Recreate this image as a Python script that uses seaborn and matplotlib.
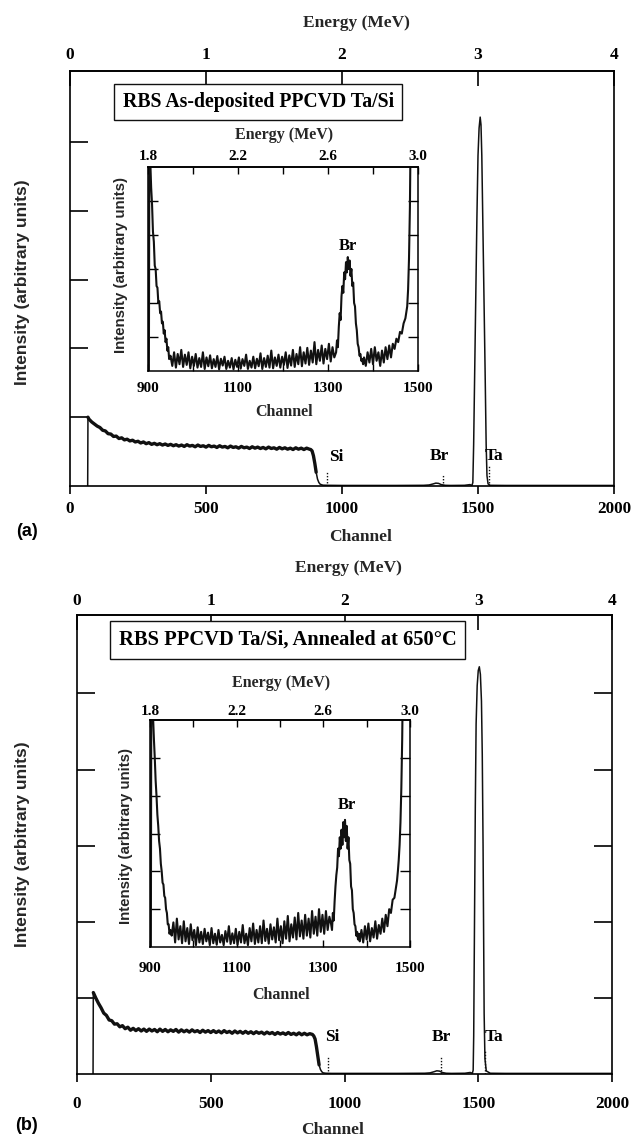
import matplotlib
matplotlib.use("Agg")
import matplotlib.pyplot as plt
from matplotlib.ticker import FormatStrFormatter
import seaborn as sns

# ---------------------------------------------------------------- data
# Main spectra: channel number vs. intensity (arbitrary units)
substrate_ch = list(range(70, 890, 10))

main_a_ch = [65, 66] + substrate_ch + [
    885, 890, 895, 900, 905, 910, 915, 920, 930, 950, 1000, 1100, 1200,
    1300, 1320, 1335, 1345, 1355, 1365, 1380, 1400, 1450, 1470,
    1478, 1481, 1484, 1488, 1492, 1496, 1500, 1504, 1508, 1511, 1514,
    1518, 1522, 1526, 1530, 1533, 1537, 1545, 1600, 1800, 2000]
main_a_int = [0.0, 1.0,
    0.97, 0.93, 0.90, 0.87, 0.85, 0.81, 0.80, 0.76, 0.755, 0.72,
    0.725, 0.69, 0.70, 0.67, 0.68, 0.655, 0.665, 0.64, 0.65, 0.625,
    0.64, 0.615, 0.63, 0.605, 0.62, 0.60, 0.615, 0.595, 0.61, 0.59,
    0.605, 0.585, 0.60, 0.58, 0.595, 0.575, 0.60, 0.58, 0.59, 0.57,
    0.595, 0.575, 0.585, 0.565, 0.59, 0.57, 0.58, 0.56, 0.585, 0.565,
    0.575, 0.555, 0.58, 0.56, 0.57, 0.55, 0.575, 0.555, 0.565, 0.545,
    0.57, 0.55, 0.565, 0.545, 0.56, 0.54, 0.565, 0.545, 0.555, 0.535,
    0.56, 0.54, 0.555, 0.535, 0.55, 0.53, 0.555, 0.535, 0.55, 0.53,
    0.55, 0.535,
    0.53, 0.51, 0.44, 0.33, 0.20, 0.10, 0.05, 0.025, 0.012, 0.01, 0.008,
    0.008, 0.008, 0.01, 0.015, 0.03, 0.042, 0.038, 0.02, 0.01, 0.008,
    0.01, 0.02,
    0.01, 0.05, 0.6, 1.7, 2.8, 3.9, 4.8, 5.2, 5.36, 5.25, 4.8,
    3.8, 2.8, 1.7, 0.6, 0.15, 0.03, 0.01, 0.008, 0.008, 0.008]

main_b_ch = [60, 61] + substrate_ch + [
    885, 890, 895, 900, 905, 910, 915, 920, 930, 950, 1000, 1100, 1200,
    1300, 1320, 1335, 1345, 1355, 1365, 1380, 1400, 1450, 1470,
    1478, 1481, 1483, 1486, 1489, 1492, 1496, 1500, 1504, 1508, 1512,
    1515, 1518, 1520, 1522, 1525, 1530, 1545, 1600, 1800, 2000]
main_b_int = [0.0, 1.07,
    1.00, 0.93, 0.87, 0.80, 0.77, 0.71, 0.70, 0.655, 0.66, 0.62,
    0.635, 0.595, 0.615, 0.575, 0.60, 0.57, 0.595, 0.565, 0.59, 0.56,
    0.59, 0.565, 0.585, 0.555, 0.59, 0.56, 0.585, 0.555, 0.58, 0.56,
    0.585, 0.55, 0.58, 0.555, 0.575, 0.55, 0.58, 0.555, 0.57, 0.545,
    0.575, 0.55, 0.57, 0.545, 0.57, 0.545, 0.565, 0.54, 0.57, 0.545,
    0.56, 0.535, 0.565, 0.54, 0.56, 0.535, 0.56, 0.535, 0.555, 0.53,
    0.555, 0.535, 0.55, 0.525, 0.55, 0.53, 0.545, 0.52, 0.545, 0.525,
    0.54, 0.52, 0.545, 0.52, 0.535, 0.515, 0.54, 0.515, 0.535, 0.515,
    0.53, 0.52,
    0.50, 0.46, 0.36, 0.24, 0.12, 0.06, 0.03, 0.015, 0.01, 0.008, 0.008,
    0.008, 0.008, 0.01, 0.015, 0.03, 0.042, 0.038, 0.02, 0.01, 0.008,
    0.01, 0.02,
    0.01, 0.05, 0.5, 2.0, 3.5, 4.6, 5.1, 5.3, 5.35, 5.25, 4.9,
    4.2, 3.0, 1.8, 0.8, 0.2, 0.04, 0.01, 0.008, 0.008, 0.008]

# Magnified region 900-1500 (inset units)
inset_noise_ch = list(range(950, 1318, 4))

inset_a_ch = ([902, 903, 905, 907, 909, 911, 913, 915, 917, 919, 921, 923,
               925, 927, 929, 931, 933, 935, 937, 939, 941, 943, 945, 947]
              + inset_noise_ch
              + list(range(1318, 1382, 2))
              + list(range(1384, 1448, 4))
              + [1448, 1452, 1456, 1460, 1464, 1468, 1472, 1476, 1478,
                 1480, 1482, 1484])
inset_a_int = ([0.0, 7.0, 6.2, 5.4, 4.9, 4.1, 3.8, 3.1, 3.0, 2.5, 2.45, 2.0,
                2.05, 1.7, 1.75, 1.4, 1.45, 1.1, 1.2, 0.85, 0.95, 0.6, 0.7,
                0.35]
               + [0.45, 0.15, 0.55, 0.10, 0.50, 0.20, 0.62, 0.12, 0.48, 0.18,
                  0.55, 0.08, 0.42, 0.15, 0.50, 0.10, 0.38, 0.12, 0.55, 0.06,
                  0.40, 0.14, 0.46, 0.08, 0.35, 0.12, 0.44, 0.05, 0.36, 0.16,
                  0.42, 0.06, 0.30, 0.10, 0.38, 0.05, 0.33, 0.12, 0.40, 0.07,
                  0.35, 0.15, 0.48, 0.06, 0.30, 0.10, 0.42, 0.08, 0.36, 0.14,
                  0.52, 0.06, 0.38, 0.12, 0.45, 0.10, 0.60, 0.08, 0.40, 0.15,
                  0.48, 0.10, 0.42, 0.18, 0.55, 0.09, 0.46, 0.16, 0.62, 0.12,
                  0.50, 0.20, 0.70, 0.14, 0.55, 0.22, 0.68, 0.18, 0.60, 0.25,
                  0.85, 0.20, 0.62, 0.30, 0.75, 0.22, 0.65, 0.35, 0.80, 0.28,
                  0.70, 0.40]
               + [0.55, 0.9, 0.7, 1.3, 1.7, 1.5, 2.2, 2.5, 2.3, 2.9, 2.7, 3.2,
                  2.9, 3.35, 3.0, 3.25, 2.8, 3.0, 2.5, 2.6, 2.0, 1.9, 1.4,
                  1.2, 0.8, 0.7, 0.45, 0.5, 0.3, 0.35, 0.2, 0.4]
               + [0.15, 0.55, 0.25, 0.65, 0.20, 0.70, 0.30, 0.55, 0.15, 0.60,
                  0.25, 0.70, 0.35, 0.75, 0.40, 0.80]
               + [0.65, 0.95, 0.85, 1.15, 1.10, 1.40, 1.55, 1.90, 2.4, 3.3,
                  4.8, 7.5])

inset_b_ch = ([902, 903, 905, 907, 909, 911, 913, 915, 917, 919, 921, 923,
               925, 927, 929, 931, 933, 935, 937, 939, 941, 943, 945, 947]
              + inset_noise_ch
              + list(range(1318, 1386, 2))
              + list(range(1388, 1452, 4))
              + [1452, 1456, 1460, 1464, 1468, 1470, 1472, 1474, 1476, 1478,
                 1480, 1482, 1484])
inset_b_int = ([0.0, 7.0, 6.6, 6.1, 5.5, 5.0, 4.4, 4.0, 3.5, 3.2, 2.8, 2.6,
                2.2, 2.0, 1.7, 1.65, 1.35, 1.3, 1.0, 0.9, 0.6, 0.6, 0.35,
                0.45]
               + [0.30, 0.65, 0.12, 0.75, 0.20, 0.55, 0.10, 0.68, 0.15, 0.50,
                  0.08, 0.60, 0.18, 0.45, 0.05, 0.52, 0.12, 0.40, 0.08, 0.48,
                  0.15, 0.38, 0.05, 0.50, 0.10, 0.35, 0.06, 0.45, 0.12, 0.32,
                  0.05, 0.42, 0.14, 0.55, 0.08, 0.36, 0.10, 0.48, 0.06, 0.40,
                  0.12, 0.58, 0.10, 0.35, 0.05, 0.50, 0.15, 0.62, 0.08, 0.45,
                  0.12, 0.55, 0.10, 0.70, 0.16, 0.48, 0.09, 0.60, 0.20, 0.52,
                  0.12, 0.75, 0.18, 0.55, 0.10, 0.68, 0.22, 0.82, 0.15, 0.60,
                  0.25, 0.78, 0.20, 0.90, 0.28, 0.70, 0.22, 0.85, 0.30, 0.75,
                  0.25, 0.95, 0.35, 0.80, 0.30, 1.00, 0.40, 0.85, 0.35, 0.95,
                  0.45, 0.80]
               + [0.6, 0.45, 0.9, 0.7, 1.2, 1.6, 1.9, 2.1, 2.6, 2.4, 2.9, 2.6,
                  3.1, 2.7, 3.3, 2.9, 3.36, 2.8, 3.2, 2.6, 2.9, 2.3, 2.2, 1.6,
                  1.5, 1.0, 0.9, 0.6, 0.55, 0.3, 0.4, 0.2, 0.35, 0.15]
               + [0.45, 0.12, 0.55, 0.20, 0.62, 0.15, 0.50, 0.25, 0.68, 0.22,
                  0.58, 0.35, 0.75, 0.40, 0.85, 0.55]
               + [1.0, 0.9, 1.25, 1.3, 1.6, 1.75, 2.0, 2.3, 2.7, 3.3, 4.2,
                  5.5, 7.5])

# Surface-edge markers and their labels
edge_names = ["Si", "Br", "Ta"]
edge_a_ch = [945, 1370, 1540]
edge_a_h = [0.22, 0.16, 0.29]
edge_b_ch = [940, 1362, 1527]
edge_b_h = [0.24, 0.22, 0.30]
label_a_ch = [978, 1357, 1558]
label_a_y = [0.42, 0.44, 0.44]
label_b_ch = [954, 1362, 1559]
label_b_y = [0.48, 0.48, 0.48]

inset_br_a = (1344, 3.68)
inset_br_b = (1354, 3.76)

main_xticks = [0, 500, 1000, 1500, 2000]
main_eticks = [0, 1, 2, 3, 4]
inset_xticks = [900, 1100, 1300, 1500]
inset_xminor = [1000, 1200, 1400]
inset_eticks = [1.8, 2.2, 2.6, 3.0]
inset_eminor = [2.0, 2.4, 2.8]
yticks = [1, 2, 3, 4, 5]
substrate_end = 905      # last channel of the Si substrate plateau

title_a = "RBS As-deposited PPCVD Ta/Si"
title_b = "RBS PPCVD Ta/Si, Annealed at 650\u00b0C"

# ---------------------------------------------------------------- style
W, H, DPI = 632, 1137, 100
sns.set_theme(style="ticks")
plt.rcParams["font.family"] = ["Liberation Serif", "DejaVu Serif"]
plt.rcParams["font.weight"] = "bold"
plt.rcParams["axes.labelweight"] = "bold"
plt.rcParams["axes.linewidth"] = 1.2
plt.rcParams["axes.edgecolor"] = "black"
plt.rcParams["xtick.color"] = "black"
plt.rcParams["ytick.color"] = "black"
plt.rcParams["text.color"] = "black"

SANS = ["Liberation Sans", "DejaVu Sans"]
INK = "#111111"


def ch_to_mev(c):
    return c / 500.0


def mev_to_ch(e):
    return e * 500.0


def box(l, t, r, b):
    """Axes rectangle from pixel edges (top-left origin)."""
    return [l / W, 1 - b / H, (r - l) / W, (b - t) / H]


def centre_label(label, rot=0):
    label.set_ha("center")
    label.set_va("center")
    label.set_rotation(rot)
    label.set_rotation_mode("anchor")


def draw_panel(fig, main_px, inset_px, ch, inten, ich, iint, edge_ch, edge_h,
               lab_ch, lab_y, br_pos, title, title_xy, title_size,
               right_ticks, pads, lab_pos):
    ax = fig.add_axes(box(*main_px))
    sns.lineplot(x=ch, y=inten, ax=ax, color=INK, lw=1.1,
                 estimator=None, sort=False)
    # the noisy substrate plateau reads as a broad band
    n_sub = sum(1 for c in ch if c <= substrate_end)
    sns.lineplot(x=ch[1:n_sub], y=inten[1:n_sub], ax=ax, color=INK, lw=2.4,
                 estimator=None, sort=False)
    ax.set_xlim(0, 2000)
    ax.set_ylim(0, 6.03)
    ax.set_xticks(main_xticks)
    ax.set_yticks(yticks)
    ax.set_yticklabels([])
    ax.tick_params(axis="x", direction="out", length=6, width=1.2,
                   pad=pads["bottom"], labelsize=12.3, top=False)
    ax.tick_params(axis="y", direction="in", length=13, width=1.2,
                   left=True, right=right_ticks, labelleft=False)
    for side in ax.spines.values():
        side.set_visible(True)
        side.set_linewidth(1.2)

    ax.vlines(edge_ch, 0, edge_h, colors=INK, lw=1.0,
              linestyles=(0, (1, 1.2)))
    for name, cx, cy in zip(edge_names, lab_ch, lab_y):
        ax.text(cx, cy, name, ha="center", va="center", fontsize=12.5,
                fontweight="bold")

    ax.set_xlabel("Channel", fontsize=12.5)
    centre_label(ax.xaxis.label)
    ax.xaxis.set_label_coords(*lab_pos["channel"])
    ax.set_ylabel("Intensity (arbitrary units)", fontsize=12.5,
                  family=SANS, fontweight="bold")
    centre_label(ax.yaxis.label, 90)
    ax.yaxis.set_label_coords(*lab_pos["intensity"])

    top = ax.secondary_xaxis("top", functions=(ch_to_mev, mev_to_ch))
    top.set_xticks(main_eticks)
    top.xaxis.set_major_formatter(FormatStrFormatter("%d"))
    top.tick_params(direction="in", length=11, width=1.2,
                    pad=pads["top"], labelsize=12.5)
    top.set_xlabel("Energy (MeV)", fontsize=12.5)
    centre_label(top.xaxis.label)
    top.xaxis.set_label_coords(*lab_pos["energy"], transform=ax.transAxes)

    ax.text(title_xy[0], title_xy[1], title, transform=ax.transAxes,
            ha="left", va="center", fontsize=title_size, fontweight="bold",
            bbox=dict(boxstyle="square,pad=0.42", fc="white", ec=INK,
                      lw=1.0))

    # magnified inset
    ia = fig.add_axes(box(*inset_px))
    sns.lineplot(x=ich, y=iint, ax=ia, color=INK, lw=1.5,
                 estimator=None, sort=False)
    ia.set_xlim(900, 1500)
    ia.set_ylim(0, 6)
    ia.set_xticks(inset_xticks)
    ia.set_xticks(inset_xminor, minor=True)
    ia.set_yticks(yticks)
    ia.set_yticklabels([])
    ia.tick_params(axis="x", which="both", direction="in", length=5,
                   width=1.0, pad=pads["ibottom"], labelsize=11, top=False)
    ia.tick_params(axis="y", direction="in", length=7, width=1.0,
                   left=True, right=True, labelleft=False)
    for side in ia.spines.values():
        side.set_visible(True)
        side.set_linewidth(1.1)
    ia.text(br_pos[0], br_pos[1], "Br", ha="center", va="center",
            fontsize=12, fontweight="bold")
    ia.set_xlabel("Channel", fontsize=11.5)
    centre_label(ia.xaxis.label)
    ia.xaxis.set_label_coords(*lab_pos["ichannel"])
    ia.set_ylabel("Intensity (arbitrary units)", fontsize=10.8,
                  family=SANS, fontweight="bold")
    centre_label(ia.yaxis.label, 90)
    ia.yaxis.set_label_coords(*lab_pos["iintensity"])

    itop = ia.secondary_xaxis("top", functions=(ch_to_mev, mev_to_ch))
    itop.set_xticks(inset_eticks)
    itop.set_xticks(inset_eminor, minor=True)
    itop.xaxis.set_major_formatter(FormatStrFormatter("%.1f"))
    itop.tick_params(which="both", direction="in", length=5, width=1.0,
                     pad=pads["itop"], labelsize=11)
    itop.set_xlabel("Energy (MeV)", fontsize=11.5)
    centre_label(itop.xaxis.label)
    itop.xaxis.set_label_coords(*lab_pos["ienergy"], transform=ia.transAxes)
    return ax


fig = plt.figure(figsize=(W / DPI, H / DPI), dpi=DPI)
fig.patch.set_facecolor("white")

draw_panel(fig, (70, 71, 614, 486), (148, 167, 418, 371),
           main_a_ch, main_a_int, inset_a_ch, inset_a_int,
           edge_a_ch, edge_a_h, label_a_ch, label_a_y, inset_br_a,
           title_a, (0.097, 0.925), 14.2, False,
           dict(bottom=5, top=6, ibottom=8, itop=3),
           dict(channel=(0.535, -0.123), intensity=(-0.0882, 0.49),
                energy=(0.527, 1.1157), ichannel=(0.504, -0.201),
                iintensity=(-0.10, 0.52), ienergy=(0.504, 1.157)))

draw_panel(fig, (77, 615, 612, 1074), (150, 720, 410, 947),
           main_b_ch, main_b_int, inset_b_ch, inset_b_int,
           edge_b_ch, edge_b_h, label_b_ch, label_b_y, inset_br_b,
           title_b, (0.0785, 0.9455), 14.8, True,
           dict(bottom=9.5, top=4, ibottom=11, itop=1.5),
           dict(channel=(0.478, -0.122), intensity=(-0.1028, 0.5),
                energy=(0.508, 1.1024), ichannel=(0.504, -0.211),
                iintensity=(-0.092, 0.49), ienergy=(0.504, 1.163)))

fig.text(27 / W, 1 - 532 / H, "(a)", ha="center", va="center",
         fontsize=13, fontweight="bold", family=SANS)
fig.text(27 / W, 1 - 1126 / H, "(b)", ha="center", va="center",
         fontsize=13, fontweight="bold", family=SANS)

fig.savefig("out.png", dpi=DPI, facecolor="white")
